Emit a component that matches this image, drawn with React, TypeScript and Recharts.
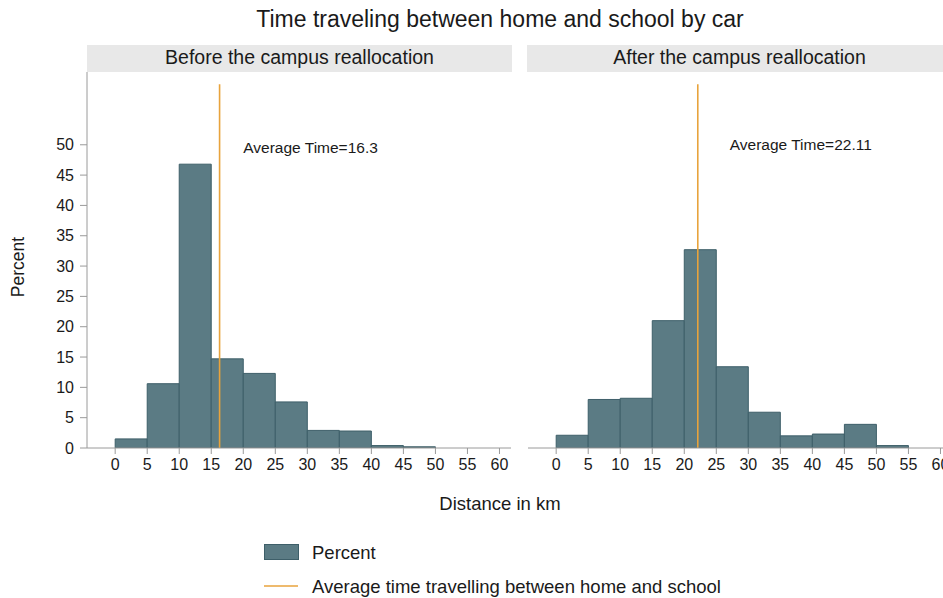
import React from 'react';
import { ComposedChart, Bar, XAxis, YAxis, ReferenceLine, ReferenceDot } from 'recharts';

// Histogram bins (lower edge, km) and share of students per bin (%)
const binStarts = [0, 5, 10, 15, 20, 25, 30, 35, 40, 45, 50];
const binWidth = 5;
const beforePercent = [1.5, 10.6, 46.8, 14.7, 12.3, 7.6, 2.9, 2.8, 0.4, 0.2, 0];
const afterPercent = [2.1, 8.0, 8.2, 21.0, 32.7, 13.4, 5.9, 2.0, 2.3, 3.9, 0.4];

// Mean travel time per period
const beforeMean = 16.3;
const afterMean = 22.11;

// Axis ticks
const xTicks = [0, 5, 10, 15, 20, 25, 30, 35, 40, 45, 50, 55, 60];
const yTicks = [0, 5, 10, 15, 20, 25, 30, 35, 40, 45, 50];

const panelTitles = ['Before the campus reallocation', 'After the campus reallocation'];

const FONT = '"Liberation Sans", Arial, Helvetica, sans-serif';
const BAR_FILL = '#5b7b84';
const BAR_STROKE = '#3e5f69';
const MEAN_COLOR = '#e8a33c';
const AXIS_COLOR = '#9a9a9a';
const TEXT_COLOR = '#1a1a1a';

const X_DOMAIN: [number, number] = [-4.4, 61.8];
const Y_DOMAIN: [number, number] = [0, 62];
const PLOT_W = 424;
const PLOT_H = 376;
const XAXIS_H = 40;

const toRows = (values: number[]) =>
  binStarts.map((start, i) => ({ mid: start + binWidth / 2, pct: values[i] }));

const tickStyle = { fontSize: 16, fill: TEXT_COLOR, fontFamily: FONT };

type PanelProps = {
  values: number[];
  mean: number;
  labelAt: { x: number; y: number };
  showYAxis: boolean;
};

function Panel({ values, mean, labelAt, showYAxis }: PanelProps) {
  const yAxisW = showYAxis ? 87 : 0;
  return (
    <ComposedChart
      width={PLOT_W + yAxisW}
      height={PLOT_H + XAXIS_H}
      data={toRows(values)}
      margin={{ top: 0, right: 0, bottom: 0, left: 0 }}
      barCategoryGap={0}
      barGap={0}
    >
      <XAxis
        type="number"
        dataKey="mid"
        domain={X_DOMAIN}
        ticks={xTicks}
        allowDataOverflow
        height={XAXIS_H}
        tick={tickStyle}
        tickSize={6}
        tickMargin={5}
        stroke={AXIS_COLOR}
        axisLine={{ stroke: AXIS_COLOR }}
        tickLine={{ stroke: AXIS_COLOR }}
        interval={0}
      />
      <YAxis
        type="number"
        domain={Y_DOMAIN}
        ticks={yTicks}
        allowDataOverflow
        hide={!showYAxis}
        width={yAxisW}
        tick={tickStyle}
        tickSize={7}
        tickMargin={6}
        stroke={AXIS_COLOR}
        axisLine={{ stroke: AXIS_COLOR }}
        tickLine={{ stroke: AXIS_COLOR }}
        interval={0}
      />
      <Bar
        dataKey="pct"
        fill={BAR_FILL}
        stroke={BAR_STROKE}
        strokeWidth={1}
        isAnimationActive={false}
      />
      <ReferenceLine
        segment={[
          { x: mean, y: 0 },
          { x: mean, y: 60 },
        ]}
        stroke={MEAN_COLOR}
        strokeWidth={1.6}
      />
      <ReferenceDot
        x={labelAt.x}
        y={labelAt.y}
        r={0}
        fill="none"
        stroke="none"
        label={{
          value: `Average Time=${mean}`,
          position: 'right',
          offset: 0,
          fill: TEXT_COLOR,
          fontSize: 15.5,
          fontFamily: FONT,
        }}
      />
    </ComposedChart>
  );
}

export default function App() {
  return (
    <div
      style={{
        position: 'absolute',
        left: 0,
        top: 0,
        width: 943,
        height: 598,
        overflow: 'hidden',
        background: '#fff',
        fontFamily: FONT,
      }}
    >
      <svg width={943} height={598} style={{ position: 'absolute', left: 0, top: 0 }}>
        <text x={500} y={27} textAnchor="middle" fontSize={23} fill={TEXT_COLOR} fontFamily={FONT}>
          Time traveling between home and school by car
        </text>
        {/* facet strips */}
        <rect x={87} y={45} width={425} height={27} fill="#e8e8e8" />
        <rect x={527} y={45} width={425} height={27} fill="#e8e8e8" />
        <text x={299.5} y={57} textAnchor="middle" dominantBaseline="central" fontSize={19.5} fill={TEXT_COLOR} fontFamily={FONT}>
          {panelTitles[0]}
        </text>
        <text x={739.5} y={57} textAnchor="middle" dominantBaseline="central" fontSize={19.5} fill={TEXT_COLOR} fontFamily={FONT}>
          {panelTitles[1]}
        </text>
        {/* axis titles */}
        <text
          x={18}
          y={267}
          textAnchor="middle"
          dominantBaseline="central"
          fontSize={17.5}
          fill={TEXT_COLOR}
          fontFamily={FONT}
          transform="rotate(-90 18 267)"
        >
          Percent
        </text>
        <text x={500} y={503} textAnchor="middle" dominantBaseline="central" fontSize={18.5} fill={TEXT_COLOR} fontFamily={FONT}>
          Distance in km
        </text>
        {/* legend */}
        <rect x={264.5} y={544.5} width={34} height={15} fill={BAR_FILL} stroke={BAR_STROKE} strokeWidth={1} />
        <text x={312} y={552} dominantBaseline="central" fontSize={18.5} fill={TEXT_COLOR} fontFamily={FONT}>
          Percent
        </text>
        <line x1={264} y1={586} x2={298} y2={586} stroke={MEAN_COLOR} strokeWidth={1.6} />
        <text x={312} y={586} dominantBaseline="central" fontSize={18.5} fill={TEXT_COLOR} fontFamily={FONT}>
          Average time travelling between home and school
        </text>
      </svg>
      <div style={{ position: 'absolute', left: 0, top: 72 }}>
        <Panel values={beforePercent} mean={beforeMean} labelAt={{ x: 20, y: 49.5 }} showYAxis />
      </div>
      <div style={{ position: 'absolute', left: 528, top: 72 }}>
        <Panel values={afterPercent} mean={afterMean} labelAt={{ x: 27.1, y: 50 }} showYAxis={false} />
      </div>
    </div>
  );
}
